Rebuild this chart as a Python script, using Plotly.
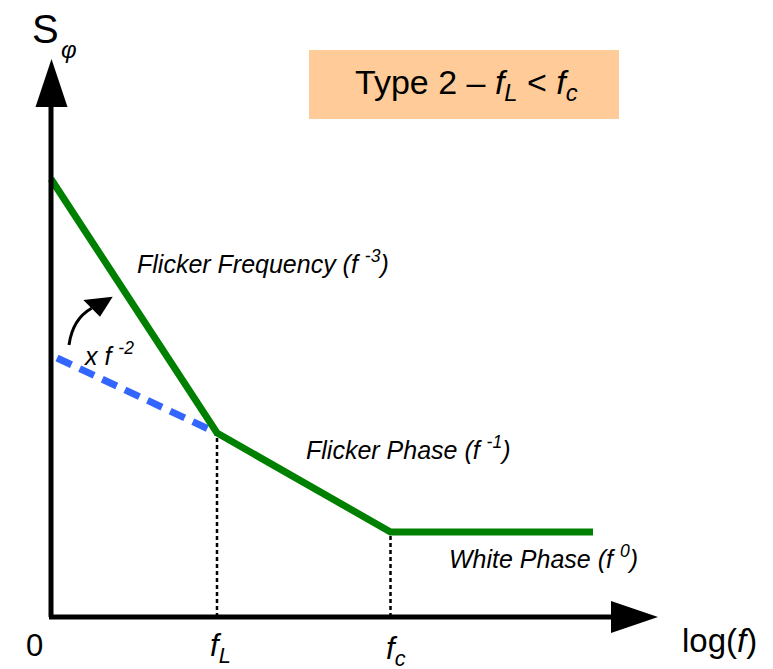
import plotly.graph_objects as go

# ---- schematic data (x = log f in arbitrary units, y = S_phi in arbitrary units) ----
logf_green = [0.0, 1.66, 3.395, 5.42]
S_green = [4.38, 1.84, 0.85, 0.85]
logf_blue = [0.06, 1.66]
S_blue = [2.59, 1.84]
f_L = 1.66
f_c = 3.395
S_at_fL = 1.84
S_at_fc = 0.85

FONT = "Liberation Sans, Arial, sans-serif"

fig = go.Figure()

# vertical dotted guides
fig.add_trace(go.Scatter(x=[f_L, f_L], y=[0, S_at_fL], mode="lines",
                         line=dict(color="black", width=2.5, dash="4px,3px"), hoverinfo="skip"))
fig.add_trace(go.Scatter(x=[f_c, f_c], y=[0, S_at_fc], mode="lines",
                         line=dict(color="black", width=2.5, dash="4px,3px"), hoverinfo="skip"))
# blue dashed extrapolation
fig.add_trace(go.Scatter(x=logf_blue, y=S_blue, mode="lines",
                         line=dict(color="rgb(51,102,255)", width=7, dash="16px,9px"), hoverinfo="skip"))
# green asymptotes
fig.add_trace(go.Scatter(x=logf_green, y=S_green, mode="lines",
                         line=dict(color="rgb(0,128,0)", width=7), hoverinfo="skip"))

shapes = [
    # title box
    dict(type="rect", xref="x", yref="y", x0=2.58, x1=5.68, y0=4.98, y1=5.67,
         fillcolor="#FFCC99", line=dict(width=0), layer="below"),
    # y axis
    dict(type="line", xref="x", yref="y", x0=0, x1=0, y0=0, y1=5.12,
         line=dict(color="black", width=5)),
    dict(type="path", xref="x", yref="y", path="M -0.155,5.10 L 0.165,5.10 L 0.005,5.58 Z",
         fillcolor="black", line=dict(width=0)),
    # x axis
    dict(type="line", xref="x", yref="y", x0=-0.02, x1=5.62, y0=0, y1=0,
         line=dict(color="black", width=5)),
    dict(type="path", xref="x", yref="y", path="M 5.60,0.16 L 5.60,-0.16 L 6.07,0.0 Z",
         fillcolor="black", line=dict(width=0)),
    # curved arrow
    dict(type="path", xref="x", yref="y", path="M 0.18,2.72 Q 0.216,2.98 0.406,3.087",
         line=dict(color="black", width=3)),
    dict(type="path", xref="x", yref="y", path="M 0.323,3.17 L 0.617,3.203 L 0.49,3.003 Z",
         fillcolor="black", line=dict(width=0)),
]

def ann(x, y, text, size, xanchor="left", yanchor="middle", italic=False):
    if italic:
        text = "<i>" + text + "</i>"
    return dict(x=x, y=y, xref="x", yref="y", text=text, showarrow=False,
                xanchor=xanchor, yanchor=yanchor,
                font=dict(family=FONT, size=size, color="black"))

annotations = [
    ann(-0.06, 5.88, "S", 40, xanchor="center"),
    ann(0.175, 5.68, "φ", 24, xanchor="center", italic=True),
    ann(4.15, 5.33, "Type 2 – <i>f<sub>L</sub></i> &lt; <i>f<sub>c</sub></i>", 34, xanchor="center"),
    ann(0.84, 3.55, "Flicker Frequency (f <sup>-3</sup>)", 25, italic=True),
    ann(2.53, 1.69, "Flicker Phase (f <sup>-1</sup>)", 25, italic=True),
    ann(3.96, 0.60, "White Phase (f <sup>0</sup>)", 25, italic=True),
    ann(0.31, 2.63, "x f <sup>-2</sup>", 25, italic=True),
    ann(-0.17, -0.28, "0", 31, xanchor="center"),
    ann(1.57, -0.31, "<i>f<sub>L</sub></i>", 31),
    ann(3.33, -0.34, "<i>f<sub>c</sub></i>", 31),
    ann(6.29, -0.23, "log(<i>f</i>)", 33),
]

# the page body adds an 8px margin, so the data window is shifted to compensate
fig.update_layout(
    width=773, height=669,
    margin=dict(l=0, r=0, t=0, b=0),
    paper_bgcolor="white", plot_bgcolor="white",
    showlegend=False,
    xaxis=dict(range=[-0.43, 7.30], visible=False, fixedrange=True),
    yaxis=dict(range=[-0.60, 6.09], visible=False, fixedrange=True),
    shapes=shapes,
    annotations=annotations,
)

fig.write_html("out.html")
